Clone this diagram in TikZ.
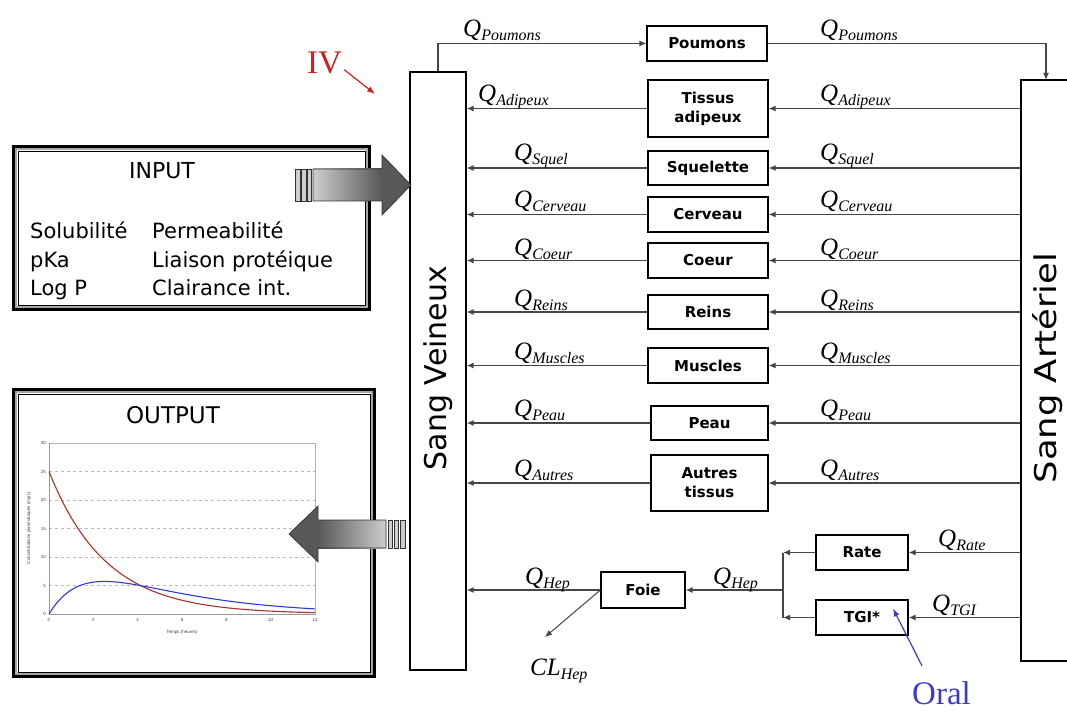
\documentclass[tikz,border=0pt]{standalone}
\usepackage{fontspec}
\usepackage{graphicx}
\setmainfont{Liberation Serif}
\newfontfamily\comicfont{DejaVu Sans}
\newfontfamily\chartfont{Liberation Sans}
\usetikzlibrary{arrows.meta,calc}

\definecolor{flowgray}{RGB}{70,70,70}
\definecolor{ivred}{RGB}{210,30,30}
\definecolor{oralblue}{RGB}{60,60,200}
\definecolor{curvered}{RGB}{170,50,45}
\definecolor{curveblue}{RGB}{55,55,225}
\definecolor{arrowdark}{RGB}{88,88,88}
\definecolor{arrowlight}{RGB}{205,205,205}

% flow label: italic symbol with a lowered italic index
\newcommand{\flowlab}[2][Q]{{\fontsize{25}{25}\selectfont\itshape #1}\raisebox{-4pt}{\fontsize{16}{16}\selectfont\itshape #2}}

\begin{document}
\begin{tikzpicture}[x=1pt,y=-1pt,
  organ/.style={draw=black, line width=1.2pt, fill=white, inner sep=0pt,
    font=\comicfont\bfseries\fontsize{15}{19}\selectfont, align=center},
  flow/.style={draw=flowgray, line width=1.2pt, -{Latex[length=7pt,width=6pt]}},
  plainline/.style={draw=flowgray, line width=1.2pt},
  qlab/.style={anchor=base west, inner sep=0pt},
  pool/.style={draw=black, line width=1.3pt, fill=white, inner sep=0pt},
  frame/.style={draw=black, line width=4pt, fill=white, inner sep=0pt},
  stripe/.style={fill=arrowlight, draw=black!80, line width=0.7pt},
  blockedge/.style={draw=black!80, line width=0.7pt},
  boxtext/.style={font=\comicfont\fontsize{21}{21}\selectfont, anchor=base west, inner sep=0pt},
  ticklab/.style={font=\chartfont\fontsize{4.5}{5}\selectfont, inner sep=1pt, text=black!75}
]
\fill[white] (0,0) rectangle (1067,711);
\useasboundingbox (0,0) rectangle (1067,711);

% ---------- INPUT panel ----------
\node[frame, minimum width=355, minimum height=162] (inbox) at (191.5,228) {};
\draw[gray!70, line width=2pt] ($(inbox.south west)+(4pt,4pt)$) rectangle ($(inbox.north east)+(-4pt,-4pt)$);
\draw[black, line width=0.7pt] ($(inbox.south west)+(6pt,6pt)$) rectangle ($(inbox.north east)+(-6pt,-6pt)$);
\node[font=\comicfont\fontsize{22}{22}\selectfont, anchor=base, inner sep=0pt] (intitle) at (162,179) {INPUT};
\node[boxtext] (in1a) at (30,239) {Solubilité};
\node[boxtext] (in1b) at (152,239) {Permeabilité};
\node[boxtext] (in2a) at (30,267) {pKa};
\node[boxtext] (in2b) at (152,267) {Liaison protéique};
\node[boxtext] (in3a) at (30,295) {Log P};
\node[boxtext] (in3b) at (152,295) {Clairance int.};

% ---------- OUTPUT panel ----------
\node[frame, minimum width=360, minimum height=286] (outbox) at (194,533) {};
\draw[gray!70, line width=2pt] ($(outbox.south west)+(4pt,4pt)$) rectangle ($(outbox.north east)+(-4pt,-4pt)$);
\draw[black, line width=0.7pt] ($(outbox.south west)+(6pt,6pt)$) rectangle ($(outbox.north east)+(-6pt,-6pt)$);
\node[font=\comicfont\fontsize{23}{23}\selectfont, anchor=base, inner sep=0pt] (outtitle) at (173,423) {OUTPUT};

% concentration-time chart
\foreach \c in {5,10,15,20,25}
  \draw[gray!55, dashed, line width=0.5pt] (49,{614-5.7*\c}) -- (315,{614-5.7*\c});
\draw[gray!60, line width=0.6pt] (49,443) rectangle (315,614);
\draw[gray!80, line width=0.6pt] (49,443) -- (49,614) -- (315,614);
\foreach \c in {0,5,...,30}
  \node[ticklab, anchor=east] at (47,{614-5.7*\c}) {\c};
\foreach \t in {0,2,...,12}
  \node[ticklab, anchor=north] at ({49+22.1667*\t},617) {\t};
\node[ticklab, anchor=north] (xtitle) at (182,629) {Temps (heures)};
\node[ticklab, rotate=90] (ytitle) at (29,528) {Concentrations plasmatiques (mg/L)};
\draw[curvered, line width=1.1pt] plot[domain=0:12, samples=100, smooth]
  ({49+22.1667*\x},{614-5.7*25*exp(-0.39*\x)});
\draw[curveblue, line width=1.1pt] plot[domain=0:12, samples=100, smooth]
  ({49+22.1667*\x},{614-5.7*18.3*(exp(-0.25*\x)-exp(-0.6*\x))});

% ---------- blood pools ----------
\node[pool, minimum width=56, minimum height=598] (ven) at (438,371) {};
\node[pool, minimum width=62, minimum height=581] (art) at (1052,370.5) {};
\node[rotate=90, font=\comicfont\fontsize{30}{30}\selectfont] (venlab) at (438,368) {Sang Veineux};
\node[rotate=90, font=\comicfont\fontsize{30}{30}\selectfont] (artlab) at (1048,368) {\scalebox{1.18}[1]{Sang Artériel}};

% ---------- organs ----------
\node[organ, minimum width=120, minimum height=35] (poumons) at (707,43.5) {Poumons};
\node[organ, minimum width=120, minimum height=57] (adipeux) at (708,108.5) {Tissus\\adipeux};
\node[organ, minimum width=120, minimum height=34] (squel) at (708,168) {Squelette};
\node[organ, minimum width=120, minimum height=35] (cerveau) at (708,214.5) {Cerveau};
\node[organ, minimum width=120, minimum height=35] (coeur) at (708,260.5) {Coeur};
\node[organ, minimum width=120, minimum height=34] (reins) at (708,312) {Reins};
\node[organ, minimum width=120, minimum height=35] (muscles) at (708,365.5) {Muscles};
\node[organ, minimum width=117, minimum height=34] (peau) at (709.5,423) {Peau};
\node[organ, minimum width=117, minimum height=56] (autres) at (709.5,483) {Autres\\tissus};
\node[organ, minimum width=84, minimum height=36] (foie) at (643,590) {Foie};
\node[organ, minimum width=92, minimum height=35] (rate) at (862,552.5) {Rate};
\node[organ, minimum width=92, minimum height=35] (tgi) at (862,617.5) {TGI*};

% ---------- blood flows ----------
\coordinate (artin) at (1046,80);
\draw[flow] (ven.north) |- (poumons.west);
\draw[flow] (poumons.east) -| (artin);
\foreach \o in {adipeux,squel,cerveau,coeur,reins,muscles,peau,autres}{
  \draw[flow] (art.west |- \o.east) -- (\o.east);
  \draw[flow] (\o.west) -- (ven.east |- \o.west);
}
\coordinate (junc) at (783,590);
\draw[flow] (art.west |- rate.east) -- (rate.east);
\draw[flow] (art.west |- tgi.east) -- (tgi.east);
\draw[flow] (rate.west) -- (junc |- rate.west);
\draw[flow] (tgi.west) -- (junc |- tgi.west);
\draw[plainline] (junc |- rate.west) -- (junc |- tgi.west);
\draw[flow] (junc) -- (foie.east);
\draw[flow] (foie.west) -- (ven.east |- foie.west);
\coordinate (clout) at (545,637);
\draw[flow, line width=1pt] (foie.west) -- (clout);

% ---------- flow labels ----------
\foreach \nm/\sub/\lx/\ly in {poumons/Poumons/463/37, adipeux/Adipeux/478/102,
    squel/Squel/514/161, cerveau/Cerveau/514/208, coeur/Coeur/514/255,
    reins/Reins/514/306, muscles/Muscles/514/359, peau/Peau/514/416,
    autres/Autres/514/476, hep/Hep/525/584}
  \node[qlab] (ql\nm) at (\lx,\ly) {\flowlab{\sub}};
\foreach \nm/\sub/\lx/\ly in {poumons/Poumons/820/37, adipeux/Adipeux/820/102,
    squel/Squel/820/161, cerveau/Cerveau/820/208, coeur/Coeur/820/255,
    reins/Reins/820/306, muscles/Muscles/820/359, peau/Peau/820/416,
    autres/Autres/820/476, hep/Hep/713/584, rate/Rate/938/546, tgi/TGI/932/611}
  \node[qlab] (qr\nm) at (\lx,\ly) {\flowlab{\sub}};
\node[qlab] (clhep) at (530,675) {\flowlab[CL]{Hep}};

% ---------- routes of administration ----------
\node[qlab, text=ivred, font=\fontsize{33}{33}\selectfont] (iv) at (307,74) {IV};
\coordinate (ivtip) at (375,94);
\draw[ivred, line width=1.2pt, -{Latex[length=8pt,width=6pt]}] ($(iv.south east)+(2pt,5pt)$) -- (ivtip);
\node[qlab, text=oralblue, font=\fontsize{33}{33}\selectfont] (oral) at (912,704) {Oral};
\draw[oralblue, line width=1.2pt, -{Latex[length=8pt,width=6pt]}] ($(oral.north west)+(10pt,15pt)$) -- ($(tgi.center)+(31pt,9pt)$);

% ---------- block arrows ----------
% input -> venous blood
\draw[stripe] (295,169) rectangle (300,201);
\draw[stripe] (301.5,169) rectangle (306,201);
\draw[stripe] (307.5,169) rectangle (311.5,201);
\shade[left color=arrowlight, right color=arrowdark] (313,169) rectangle (382,201);
\fill[arrowdark] (382,155) -- (411,185) -- (382,215) -- cycle;
\draw[blockedge] (313,169) -- (382,169) -- (382,155) -- (411,185) -- (382,215) -- (382,201) -- (313,201) -- cycle;
% venous blood -> output
\draw[stripe] (400,520) rectangle (405,548);
\draw[stripe] (394,520) rectangle (398.5,548);
\draw[stripe] (388,520) rectangle (392.5,548);
\shade[left color=arrowdark, right color=arrowlight] (318,520) rectangle (386,548);
\fill[arrowdark] (318,506) -- (289,534) -- (318,562) -- cycle;
\draw[blockedge] (386,520) -- (318,520) -- (318,506) -- (289,534) -- (318,562) -- (318,548) -- (386,548) -- cycle;
\end{tikzpicture}
\end{document}
